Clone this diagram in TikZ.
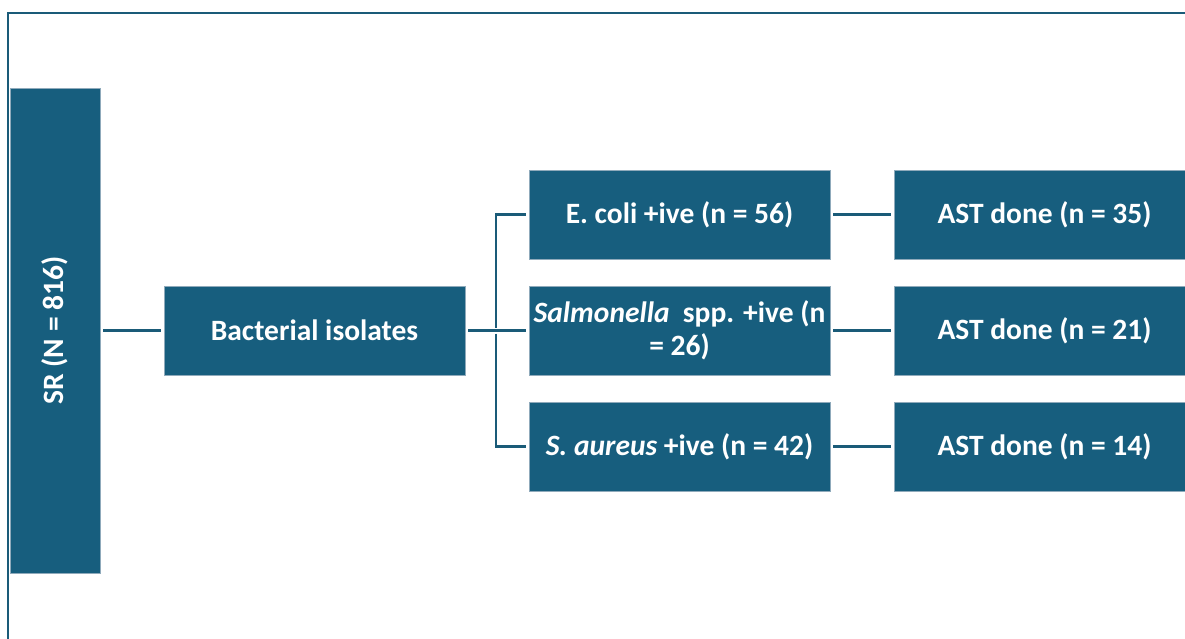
\documentclass[tikz,border=0pt]{standalone}
\usepackage{fontspec}
\setmainfont{Carlito}
\usepackage{tikz}
\usetikzlibrary{positioning}
\definecolor{boxblue}{HTML}{175E7E}
\definecolor{boxedge}{HTML}{8FAABB}
\definecolor{linkblue}{HTML}{1A5B78}
\tikzset{
  box/.style={rectangle, fill=boxblue, draw=boxedge, line width=0.8pt,
              minimum width=301pt, minimum height=89pt, inner sep=2pt,
              outer sep=0pt, align=center, text=white,
              font=\fontsize{29.5}{33}\selectfont\bfseries},
  srbox/.style={box, minimum width=90pt, minimum height=485pt},
  link/.style={draw=linkblue, line width=2.4pt, shorten <=3pt, shorten >=3pt},
  frameline/.style={draw=linkblue, line width=1.8pt},
}
\begin{document}
\begin{tikzpicture}[x=1pt, y=1pt, node distance=27pt and 64pt]
  \useasboundingbox (0,0) rectangle (1185,638);

  % outer frame (cut by the page at right and bottom)
  \draw[frameline] (8,-20) -- (8,625.3) -- (1200,625.3);

  % left column
  \node[srbox] (sr) at (55,307.5) {\rotatebox{90}{SR (N = 816)}};
  \node[box, right=of sr] (isolates) {Bacterial isolates};

  % species
  \node[box, right=of isolates] (salm) {\textit{Salmonella}\ \ spp. +ive (n\\= 26)};
  \node[box, above=of salm] (ecoli) {E. coli +ive (n = 56)};
  \node[box, below=of salm] (saur)  {\textit{S. aureus} +ive (n = 42)};

  % AST
  \node[box, right=of ecoli] (astecoli) {AST done (n = 35)};
  \node[box, right=of salm]  (astsalm)  {AST done (n = 21)};
  \node[box, right=of saur]  (astsaur)  {AST done (n = 14)};

  % links
  \draw[link] (sr) -- (isolates);
  \draw[link] (isolates.east) -- (salm.west);
  \draw[link] ([xshift=31pt]isolates.east) |- (ecoli.west);
  \draw[link] ([xshift=31pt]isolates.east) |- (saur.west);
  \draw[link] (ecoli) -- (astecoli);
  \draw[link] (salm)  -- (astsalm);
  \draw[link] (saur)  -- (astsaur);
\end{tikzpicture}
\end{document}
